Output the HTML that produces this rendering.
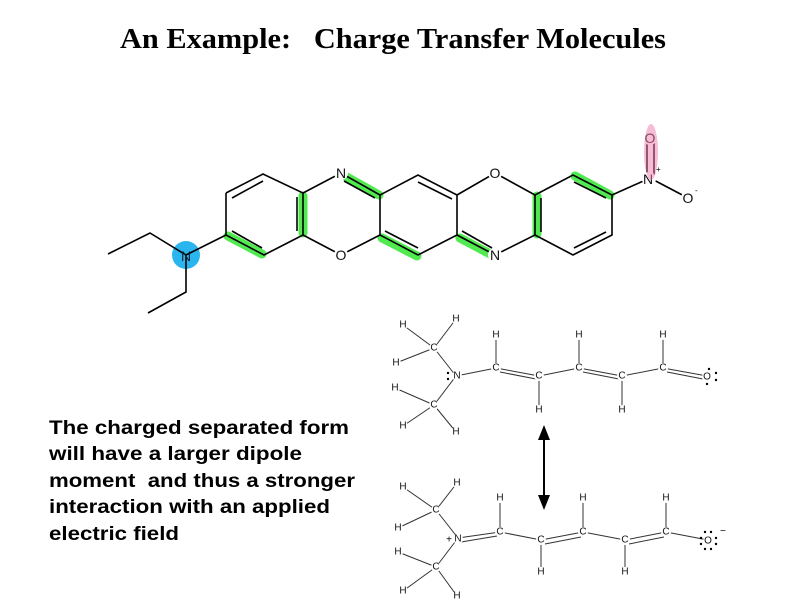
<!DOCTYPE html>
<html><head><meta charset="utf-8"><style>
html,body{margin:0;padding:0;background:#fff;}
svg{display:block}
.b{stroke:#000;stroke-width:1.6;fill:none}
.t{stroke:#333;stroke-width:1;fill:none}
.s{font-family:"Liberation Sans",sans-serif;font-size:10px;fill:#111;text-anchor:middle;dominant-baseline:central}
.g{stroke:#3ee83e;stroke-width:9;stroke-linecap:round;opacity:.9}
.w{fill:#fff}
</style></head><body>
<svg width="800" height="600" viewBox="0 0 800 600" xmlns="http://www.w3.org/2000/svg">
<text x="393" y="48" text-anchor="middle" font-family="Liberation Serif,serif" font-weight="bold" font-size="29" fill="#000" textLength="546" lengthAdjust="spacingAndGlyphs">An Example:&#160;&#160; Charge Transfer Molecules</text>

<!-- highlights -->
<g class="g">
<line x1="228" y1="236" x2="262" y2="254"/>
<line x1="303" y1="196" x2="303" y2="233"/>
<line x1="345" y1="176" x2="379" y2="195"/>
<line x1="382" y1="238" x2="417" y2="256"/>
<line x1="460" y1="238" x2="492" y2="255"/>
<line x1="537" y1="196" x2="537" y2="234"/>
<line x1="575" y1="176" x2="610" y2="195"/>
</g>
<circle cx="186" cy="255" r="14" fill="#2bb5ee"/>

<!-- molecule skeleton -->
<g class="b">
<polyline points="226,193 263,174 303,193 303,235 264,255 226,235 226,193"/>
<line x1="232" y1="198" x2="263" y2="181"/>
<line x1="232" y1="231" x2="262" y2="248"/>
<line x1="297" y1="197" x2="297" y2="231"/>
<polyline points="303,193 341,173 380,195 380,235 341,255 303,235"/>
<line x1="344" y1="181" x2="375" y2="198"/>
<polyline points="380,195 418,175 457,195 457,235 418,255 380,235"/>
<line x1="418" y1="182" x2="452" y2="199"/>
<line x1="385" y1="231" x2="418" y2="248"/>
<polyline points="457,195 495,173 535,195 535,235 495,255 457,235"/>
<line x1="462" y1="231" x2="492" y2="248"/>
<polyline points="535,195 573,175 612,195 612,235 573,255 535,235"/>
<line x1="541" y1="198" x2="541" y2="232"/>
<line x1="574" y1="182" x2="606" y2="198"/>
<line x1="574" y1="248" x2="606" y2="232"/>
<polyline points="226,235 186,255 150,233 108,254"/>
<polyline points="186,255 186,292 148,313"/>
<line x1="612" y1="195" x2="650" y2="178"/>
<line x1="647" y1="143" x2="647" y2="175"/>
<line x1="654" y1="143" x2="654" y2="175"/>
<line x1="650" y1="178" x2="688" y2="198"/>
</g>
<g class="w">
<circle cx="341" cy="173" r="7"/><circle cx="341" cy="255" r="7"/>
<circle cx="495" cy="173" r="7"/><circle cx="495" cy="255" r="7"/>
<circle cx="650" cy="138" r="7"/><circle cx="649" cy="179" r="7"/><circle cx="688" cy="198" r="7"/>
</g>
<g font-family="Liberation Sans,sans-serif" font-size="14" text-anchor="middle" dominant-baseline="central" fill="#111">
<text x="341" y="173">N</text><text x="341" y="255">O</text>
<text x="495" y="173">O</text><text x="495" y="255">N</text>
<text x="650" y="138">O</text><text x="648" y="179">N</text><text x="688" y="198">O</text>
</g>
<ellipse cx="651" cy="152" rx="7" ry="28" fill="#f07aae" opacity=".5"/>
<text x="186" y="256" font-family="Liberation Sans,sans-serif" font-size="14" text-anchor="middle" dominant-baseline="central" fill="#123">N</text>
<text x="656" y="172" font-family="Liberation Sans,sans-serif" font-size="8">+</text>
<text x="695" y="193" font-family="Liberation Sans,sans-serif" font-size="8">-</text>

<!-- top resonance structure -->
<g class="t">
<line x1="403" y1="325" x2="434" y2="348"/><line x1="456" y1="319" x2="434" y2="348"/>
<line x1="396" y1="363" x2="434" y2="348"/><line x1="434" y1="348" x2="456" y2="376"/>
<line x1="456" y1="376" x2="434" y2="405"/><line x1="395" y1="388" x2="434" y2="405"/>
<line x1="403" y1="426" x2="434" y2="405"/><line x1="456" y1="432" x2="434" y2="405"/>
<line x1="456" y1="376" x2="496" y2="368"/>
<line x1="496" y1="368" x2="539" y2="376"/><line x1="500" y1="372" x2="536" y2="379"/>
<line x1="539" y1="376" x2="579" y2="368"/>
<line x1="579" y1="368" x2="622" y2="376"/><line x1="583" y1="372" x2="619" y2="379"/>
<line x1="622" y1="376" x2="663" y2="368"/>
<line x1="663" y1="368" x2="707" y2="376"/><line x1="667" y1="372" x2="703" y2="379"/>
<line x1="496" y1="335" x2="496" y2="368"/><line x1="539" y1="376" x2="539" y2="410"/>
<line x1="579" y1="335" x2="579" y2="368"/><line x1="622" y1="376" x2="622" y2="410"/>
<line x1="663" y1="335" x2="663" y2="368"/>
</g>
<g class="w">
<circle cx="403" cy="325" r="5"/><circle cx="456" cy="319" r="5"/><circle cx="434" cy="348" r="5"/>
<circle cx="396" cy="363" r="5"/><circle cx="457" cy="376" r="5"/><circle cx="395" cy="388" r="5"/>
<circle cx="434" cy="405" r="5"/><circle cx="403" cy="426" r="5"/><circle cx="456" cy="432" r="5"/>
<circle cx="496" cy="368" r="5"/><circle cx="496" cy="335" r="5"/><circle cx="539" cy="376" r="5"/><circle cx="539" cy="410" r="5"/>
<circle cx="579" cy="368" r="5"/><circle cx="579" cy="335" r="5"/><circle cx="622" cy="376" r="5"/><circle cx="622" cy="410" r="5"/>
<circle cx="663" cy="368" r="5"/><circle cx="663" cy="335" r="5"/><circle cx="707" cy="377" r="5"/>
</g>
<g class="s">
<text x="403" y="325">H</text><text x="456" y="319">H</text><text x="434" y="348">C</text>
<text x="396" y="363">H</text><text x="457" y="376">N</text><text x="395" y="388">H</text>
<text x="434" y="405">C</text><text x="403" y="426">H</text><text x="456" y="432">H</text>
<text x="496" y="368">C</text><text x="496" y="335">H</text><text x="539" y="376">C</text><text x="539" y="410">H</text>
<text x="579" y="368">C</text><text x="579" y="335">H</text><text x="622" y="376">C</text><text x="622" y="410">H</text>
<text x="663" y="368">C</text><text x="663" y="335">H</text><text x="707" y="377">O</text>
</g>
<g fill="#000">
<circle cx="448" cy="373" r="1.2"/><circle cx="448" cy="379" r="1.2"/>
<circle cx="709" cy="369" r="1.2"/><circle cx="716" cy="373" r="1.2"/><circle cx="716" cy="380" r="1.2"/><circle cx="707" cy="384" r="1.2"/>
</g>

<!-- arrow -->
<line x1="544" y1="436" x2="544" y2="500" stroke="#000" stroke-width="2"/>
<polygon points="544,425 538,440 550,440" fill="#000"/>
<polygon points="544,510 538,495 550,495" fill="#000"/>

<!-- bottom resonance structure -->
<g class="t">
<line x1="403" y1="487" x2="436" y2="510"/><line x1="457" y1="483" x2="436" y2="510"/>
<line x1="398" y1="528" x2="436" y2="510"/><line x1="436" y1="510" x2="458" y2="538"/>
<line x1="458" y1="538" x2="436" y2="567"/><line x1="398" y1="552" x2="436" y2="567"/>
<line x1="403" y1="591" x2="436" y2="567"/><line x1="457" y1="596" x2="436" y2="567"/>
<line x1="458" y1="538" x2="500" y2="532"/><line x1="461" y1="542" x2="497" y2="536"/>
<line x1="500" y1="532" x2="541" y2="540"/>
<line x1="541" y1="540" x2="583" y2="532"/><line x1="545" y1="544" x2="581" y2="537"/>
<line x1="583" y1="532" x2="625" y2="540"/>
<line x1="625" y1="540" x2="666" y2="532"/><line x1="629" y1="544" x2="664" y2="537"/>
<line x1="666" y1="532" x2="708" y2="540"/>
<line x1="500" y1="498" x2="500" y2="532"/><line x1="541" y1="540" x2="541" y2="572"/>
<line x1="583" y1="498" x2="583" y2="532"/><line x1="625" y1="540" x2="625" y2="572"/>
<line x1="666" y1="498" x2="666" y2="532"/>
</g>
<g class="w">
<circle cx="403" cy="487" r="5"/><circle cx="457" cy="483" r="5"/><circle cx="436" cy="510" r="5"/>
<circle cx="398" cy="528" r="5"/><circle cx="458" cy="539" r="5"/><circle cx="398" cy="552" r="5"/>
<circle cx="436" cy="567" r="5"/><circle cx="403" cy="591" r="5"/><circle cx="457" cy="596" r="5"/>
<circle cx="500" cy="532" r="5"/><circle cx="500" cy="498" r="5"/><circle cx="541" cy="540" r="5"/><circle cx="541" cy="572" r="5"/>
<circle cx="583" cy="532" r="5"/><circle cx="583" cy="498" r="5"/><circle cx="625" cy="540" r="5"/><circle cx="625" cy="572" r="5"/>
<circle cx="666" cy="532" r="5"/><circle cx="666" cy="498" r="5"/><circle cx="708" cy="541" r="5"/>
</g>
<g class="s">
<text x="403" y="487">H</text><text x="457" y="483">H</text><text x="436" y="510">C</text>
<text x="398" y="528">H</text><text x="458" y="539">N</text><text x="398" y="552">H</text>
<text x="436" y="567">C</text><text x="403" y="591">H</text><text x="457" y="596">H</text>
<text x="500" y="532">C</text><text x="500" y="498">H</text><text x="541" y="540">C</text><text x="541" y="572">H</text>
<text x="583" y="532">C</text><text x="583" y="498">H</text><text x="625" y="540">C</text><text x="625" y="572">H</text>
<text x="666" y="532">C</text><text x="666" y="498">H</text><text x="708" y="541">O</text>
</g>
<text x="449" y="540" font-family="Liberation Sans,sans-serif" font-size="10" text-anchor="middle" dominant-baseline="central">+</text>
<text x="720" y="534" font-family="Liberation Sans,sans-serif" font-size="10">−</text>
<g fill="#000">
<circle cx="705" cy="532" r="1.2"/><circle cx="711" cy="532" r="1.2"/>
<circle cx="701" cy="538" r="1.2"/><circle cx="701" cy="544" r="1.2"/>
<circle cx="716" cy="538" r="1.2"/><circle cx="716" cy="544" r="1.2"/>
<circle cx="705" cy="549" r="1.2"/><circle cx="711" cy="549" r="1.2"/>
</g>

<!-- text block -->
<g font-family="Liberation Sans,sans-serif" font-weight="bold" font-size="19" fill="#000">
<text x="49" y="434" textLength="300" lengthAdjust="spacingAndGlyphs">The charged separated form</text>
<text x="49" y="460" textLength="253" lengthAdjust="spacingAndGlyphs">will have a larger dipole</text>
<text x="49" y="487" textLength="306" lengthAdjust="spacingAndGlyphs">moment&#160; and thus a stronger</text>
<text x="49" y="513" textLength="281" lengthAdjust="spacingAndGlyphs">interaction with an applied</text>
<text x="49" y="540" textLength="130" lengthAdjust="spacingAndGlyphs">electric field</text>
</g>
</svg>
</body></html>
